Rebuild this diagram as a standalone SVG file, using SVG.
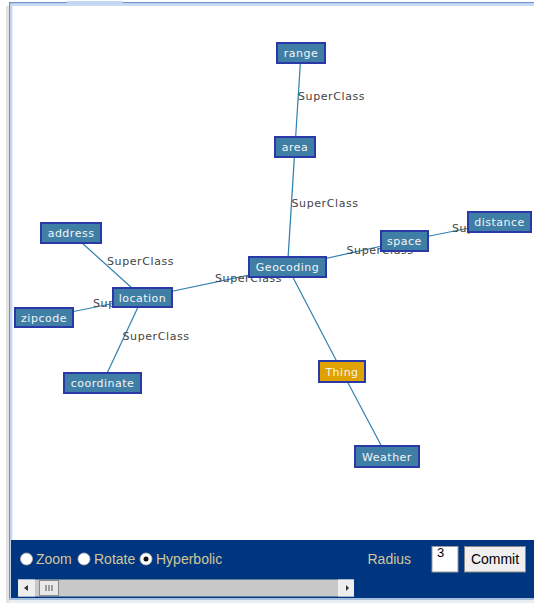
<svg xmlns="http://www.w3.org/2000/svg" width="534" height="603" viewBox="0 0 534 603">
<style>
.edge{stroke:#2f80b0;stroke-width:1.2;fill:none}
.lbl{font-family:"DejaVu Sans",sans-serif;font-size:11px;letter-spacing:0.6px;fill:#444}
.box{fill:#3f7fa6;stroke:#2a38a8;stroke-width:2}
.thing{fill:#e0a200;stroke:#2a38a8;stroke-width:2}
.ntx{font-family:"DejaVu Sans",sans-serif;font-size:11px;letter-spacing:0.5px;fill:#f4f4f4;text-anchor:middle}
.ui{font-family:"Liberation Sans",Arial,sans-serif;font-size:14px;fill:#d2c79a}
</style>
<rect width="534" height="603" fill="#ffffff"/>
<!-- frame -->
<rect x="6" y="6" width="3" height="597" fill="#e2e2e2"/>
<rect x="9" y="2" width="1.5" height="601" fill="#6f8fd0"/>
<rect x="10.5" y="3" width="2" height="600" fill="#c9dbf2"/>
<rect x="9" y="2" width="525" height="1.5" fill="#6f8fd0"/>
<rect x="10.5" y="3.5" width="523.5" height="2.5" fill="#c9dbf2"/>
<rect x="67" y="1" width="56" height="3" fill="#c0d8f0"/>

<g id="connectors">
<line class="edge" x1="301" y1="53" x2="295" y2="147"/>
<line class="edge" x1="295" y1="147" x2="287.5" y2="267"/>
<line class="edge" x1="287.5" y1="267" x2="404.5" y2="241"/>
<line class="edge" x1="404.5" y1="241" x2="499.5" y2="222"/>
<line class="edge" x1="287.5" y1="267" x2="142.5" y2="297.5"/>
<line class="edge" x1="142.5" y1="297.5" x2="71" y2="233"/>
<line class="edge" x1="142.5" y1="297.5" x2="44" y2="317.5"/>
<line class="edge" x1="142.5" y1="297.5" x2="102.5" y2="383"/>
<line class="edge" x1="287.5" y1="267" x2="342" y2="371.5"/>
<line class="edge" x1="342" y1="371.5" x2="387" y2="456.5"/>
<text class="lbl" x="298" y="100">SuperClass</text>
<text class="lbl" x="291.5" y="207">SuperClass</text>
<text class="lbl" x="346.5" y="254">SuperClass</text>
<text class="lbl" x="452" y="231.5">SuperClass</text>
<text class="lbl" x="215" y="282">SuperClass</text>
<text class="lbl" x="107" y="265">SuperClass</text>
<text class="lbl" x="93" y="307">SuperClass</text>
<text class="lbl" x="122.5" y="340">SuperClass</text>
</g>

<g id="range"><rect class="box" x="277" y="43" width="48" height="20"/><text class="ntx" x="301" y="57">range</text></g>
<g id="area"><rect class="box" x="275" y="137" width="40" height="20"/><text class="ntx" x="295" y="151">area</text></g>
<g id="Geocoding"><rect class="box" x="249" y="257" width="77" height="20"/><text class="ntx" x="287.5" y="271">Geocoding</text></g>
<g id="space"><rect class="box" x="381" y="231" width="47" height="20"/><text class="ntx" x="404.5" y="245">space</text></g>
<g id="distance"><rect class="box" x="468" y="212" width="63" height="20"/><text class="ntx" x="499.5" y="226">distance</text></g>
<g id="address"><rect class="box" x="41" y="223" width="60" height="20"/><text class="ntx" x="71" y="237">address</text></g>
<g id="location"><rect class="box" x="113" y="288" width="59" height="19"/><text class="ntx" x="142.5" y="301.5">location</text></g>
<g id="zipcode"><rect class="box" x="15" y="308" width="58" height="19"/><text class="ntx" x="44" y="321.5">zipcode</text></g>
<g id="coordinate"><rect class="box" x="64" y="373" width="77" height="20"/><text class="ntx" x="102.5" y="387">coordinate</text></g>
<g id="Thing"><rect class="thing" x="319" y="361" width="46" height="21"/><text class="ntx" x="342" y="375.5">Thing</text></g>
<g id="Weather"><rect class="box" x="355" y="446" width="64" height="21"/><text class="ntx" x="387" y="460.5">Weather</text></g>

<!-- control panel -->
<rect x="11" y="540" width="523" height="58" fill="#003580"/>
<rect x="9" y="598" width="525" height="2" fill="#a8c0e0"/>
<rect x="9" y="600" width="525" height="3" fill="#e8eef6"/>
<g id="controls">
<circle cx="26.5" cy="559" r="6" fill="#ffffff" stroke="#b8b8b8" stroke-width="0.8"/>
<text class="ui" x="36" y="564">Zoom</text>
<circle cx="84" cy="559" r="6" fill="#ffffff" stroke="#b8b8b8" stroke-width="0.8"/>
<text class="ui" x="94" y="564">Rotate</text>
<circle cx="146" cy="559" r="6" fill="#ffffff" stroke="#b8b8b8" stroke-width="0.8"/>
<circle cx="146" cy="559" r="2.5" fill="#111"/>
<text class="ui" x="156" y="564">Hyperbolic</text>
<text class="ui" x="367.5" y="564">Radius</text>
<rect x="432" y="546.5" width="26" height="25.5" fill="#ffffff" stroke="#9a9a9a" stroke-width="1"/>
<text x="437" y="557" font-family="Liberation Sans, Arial, sans-serif" font-size="13" fill="#000">3</text>
<rect x="464.5" y="546.5" width="61" height="25.5" fill="#efefef" stroke="#8a8a8a" stroke-width="1"/>
<text x="495" y="564" font-family="Liberation Sans, Arial, sans-serif" font-size="14" fill="#000" text-anchor="middle">Commit</text>
<!-- scrollbar -->
<rect x="18" y="579.5" width="336" height="17" fill="#c8c8c8"/>
<rect x="18" y="579.5" width="17" height="17" fill="#eeeeee"/>
<path d="M24 588 L28 585 L28 591 Z" fill="#333"/>
<rect x="39.5" y="580.5" width="19" height="15" fill="#e8e8e8" stroke="#8a8a8a" stroke-width="1"/>
<path d="M46 585v6M49 585v6M52 585v6" stroke="#555" stroke-width="1"/>
<rect x="338" y="579.5" width="16" height="17" fill="#eeeeee"/>
<path d="M346 585 L346 591 L349 588 Z" fill="#333"/>
</g>
</svg>
